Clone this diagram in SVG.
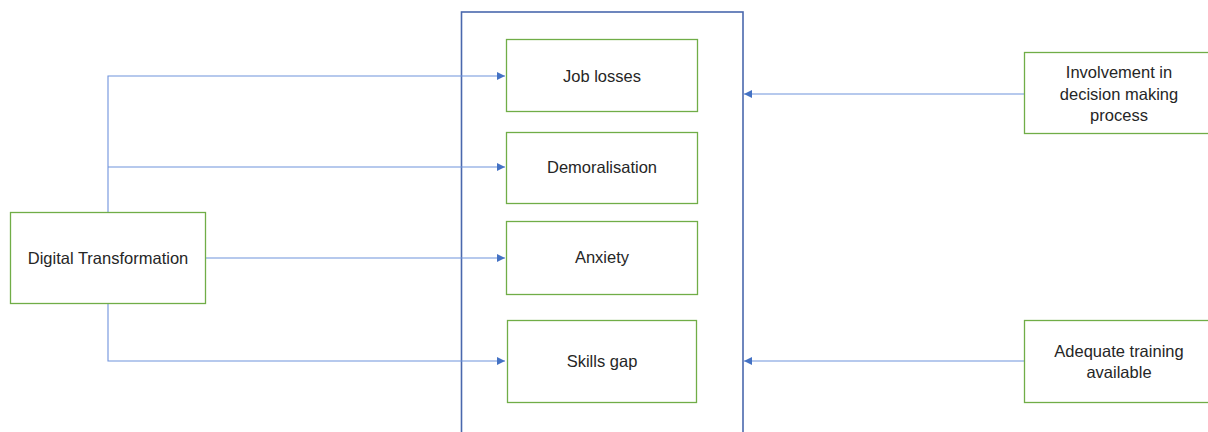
<svg xmlns="http://www.w3.org/2000/svg" width="1208" height="432" viewBox="0 0 1208 432">
<style>
.node{fill:#fff;stroke:#70AD47;stroke-width:1.3}
.frame{fill:none;stroke:#4A68AD;stroke-width:1.6}
.lbl{font-family:"Liberation Sans",Arial,sans-serif;font-size:16.5px;fill:#262626;text-anchor:middle}
.conn{fill:none;stroke:#6F93DC;stroke-width:1.1}
</style>
<defs>
<marker id="arr" viewBox="0 0 10 10" refX="10" refY="5" markerWidth="8" markerHeight="8" markerUnits="userSpaceOnUse" orient="auto">
<path d="M0,0 L10,5 L0,10 Z" fill="#4472C4"/>
</marker>
</defs>
<rect width="1208" height="432" fill="#fff"/>
<g id="frame"><rect class="frame" x="461.5" y="12" width="281.5" height="440"/></g>
<g id="connectors">
<path class="conn" d="M108,212 V76 H505" marker-end="url(#arr)"/>
<path class="conn" d="M108,167 H505" marker-end="url(#arr)"/>
<path class="conn" d="M205,258 H505" marker-end="url(#arr)"/>
<path class="conn" d="M108,303 V361 H505" marker-end="url(#arr)"/>
<path class="conn" d="M1024,94 H744" marker-end="url(#arr)"/>
<path class="conn" d="M1024,361 H744" marker-end="url(#arr)"/>
</g>
<g id="digital"><rect class="node" x="10.5" y="212.5" width="195" height="91"/><text class="lbl" x="108" y="264">Digital Transformation</text></g>
<g id="job"><rect class="node" x="506.5" y="39.5" width="191" height="72"/><text class="lbl" x="602" y="82">Job losses</text></g>
<g id="demoral"><rect class="node" x="506.5" y="132.5" width="191" height="71"/><text class="lbl" x="602" y="173">Demoralisation</text></g>
<g id="anxiety"><rect class="node" x="506.5" y="221.5" width="191" height="73"/><text class="lbl" x="602" y="263">Anxiety</text></g>
<g id="skills"><rect class="node" x="507.5" y="320.5" width="189" height="82"/><text class="lbl" x="602" y="367">Skills gap</text></g>
<g id="involve"><rect class="node" x="1024.5" y="52.5" width="190" height="81"/><text class="lbl" x="1119"><tspan x="1119" y="78">Involvement in</tspan><tspan x="1119" y="100">decision making</tspan><tspan x="1119" y="121">process</tspan></text></g>
<g id="training"><rect class="node" x="1024.5" y="320.5" width="190" height="82"/><text class="lbl" x="1119"><tspan x="1119" y="357">Adequate training</tspan><tspan x="1119" y="378">available</tspan></text></g>
</svg>
